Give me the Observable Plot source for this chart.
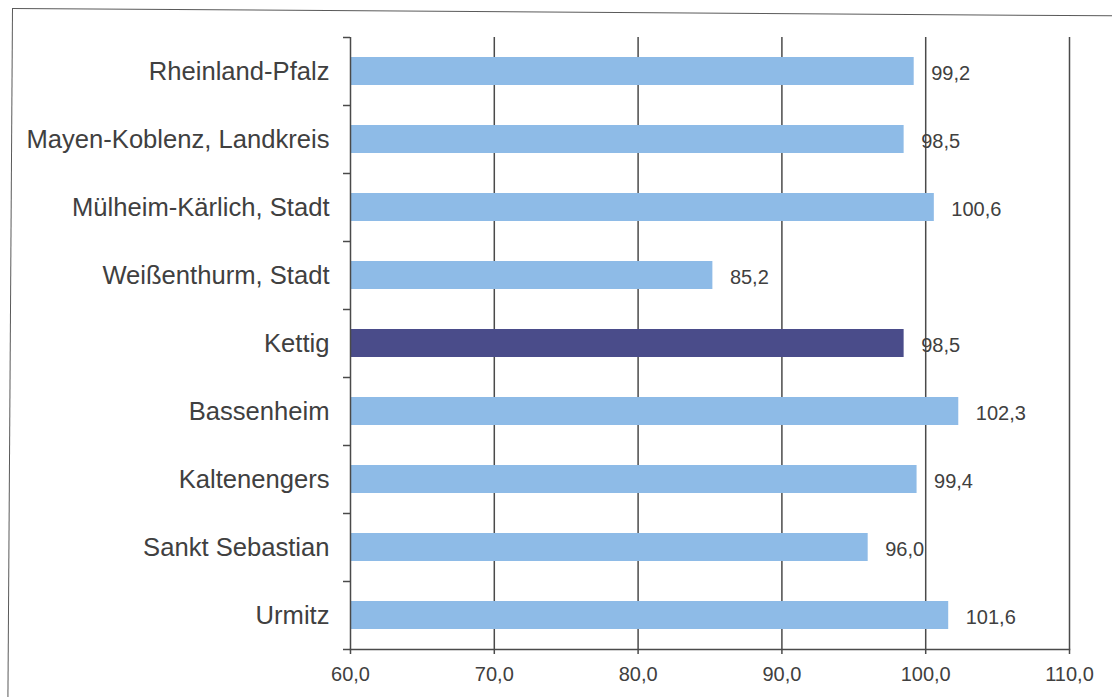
<!DOCTYPE html>
<html>
<head>
<meta charset="utf-8">
<script src="https://cdn.jsdelivr.net/npm/d3@7"></script>
<script src="https://cdn.jsdelivr.net/npm/@observablehq/plot@0.6"></script>
<style>
  html, body { margin: 0; padding: 0; background: #fff; overflow: hidden; }
  #wrap { position: relative; width: 1112px; height: 697px; }
  #border { position: absolute; left: 12px; top: 8px; width: 1300px; height: 900px;
            border-left: 1.5px solid #5a5a5a; border-top: 1.5px solid #5a5a5a;
            transform: rotate(0.38deg); transform-origin: 0 0; pointer-events: none; }
  #chart svg { display: block; }
</style>
</head>
<body>
<div id="wrap">
  <div id="border"></div>
  <div id="chart"></div>
</div>
<script>
const categories = ["Rheinland-Pfalz", "Mayen-Koblenz, Landkreis", "Mülheim-Kärlich, Stadt", "Weißenthurm, Stadt", "Kettig", "Bassenheim", "Kaltenengers", "Sankt Sebastian", "Urmitz"];
const values = [99.2, 98.5, 100.6, 85.2, 98.5, 102.3, 99.4, 96.0, 101.6];
const highlight = "Kettig";
const xTicks = [60, 70, 80, 90, 100, 110];
const xMin = 60;

const lightBlue = "#8ebbe7";
const darkBlue = "#4a4c8a";
const ink = "#404040";
const lineColor = "#4a4a4a";

const data = categories.map((name, i) => ({name, value: values[i]}));
const fmt = v => v.toFixed(1).replace(".", ",");

const mTop = 37, mBottom = 48;
const band = (697 - mTop - mBottom) / categories.length;

const chart = Plot.plot({
  width: 1112,
  height: 697,
  marginLeft: 350,
  marginRight: 43,
  marginTop: mTop,
  marginBottom: mBottom,
  style: {fontFamily: "'Liberation Sans', Arial, sans-serif", color: ink, background: "transparent"},
  x: {domain: [60, 110], ticks: xTicks, label: null},
  y: {domain: categories, padding: 0, label: null},
  color: {type: "identity"},
  marks: [
    Plot.gridX(xTicks.slice(1), {stroke: lineColor, strokeOpacity: 1, strokeWidth: 1.5}),
    Plot.barX(data, {
      x1: () => xMin, x2: "value", y: "name",
      fill: d => d.name === highlight ? darkBlue : lightBlue,
      insetTop: 20, insetBottom: 20
    }),
    Plot.ruleX([xMin], {stroke: lineColor, strokeWidth: 1.5}),
    Plot.frame({anchor: "bottom", stroke: lineColor, strokeWidth: 1.5}),
    Plot.axisY({tickSize: 7, dy: -band / 2, tickFormat: () => "", stroke: lineColor, strokeWidth: 1.5, label: null}),
    Plot.axisY([categories[categories.length - 1]], {tickSize: 7, dy: band / 2, tickFormat: () => "", stroke: lineColor, strokeWidth: 1.5, label: null}),
    Plot.axisY({tickSize: 0, tickPadding: 21, fontSize: 25.6, fill: ink, label: null}),
    Plot.axisX({ticks: xTicks, tickSize: 5, tickPadding: 12, tickFormat: fmt, fontSize: 20, fill: ink, stroke: lineColor, strokeWidth: 1.5, label: null}),
    Plot.text(data, {x: "value", y: "name", text: d => fmt(d.value), textAnchor: "start", dx: 17, dy: 2, fontSize: 20, fill: ink})
  ]
});
document.getElementById("chart").appendChild(chart);
</script>
</body>
</html>
